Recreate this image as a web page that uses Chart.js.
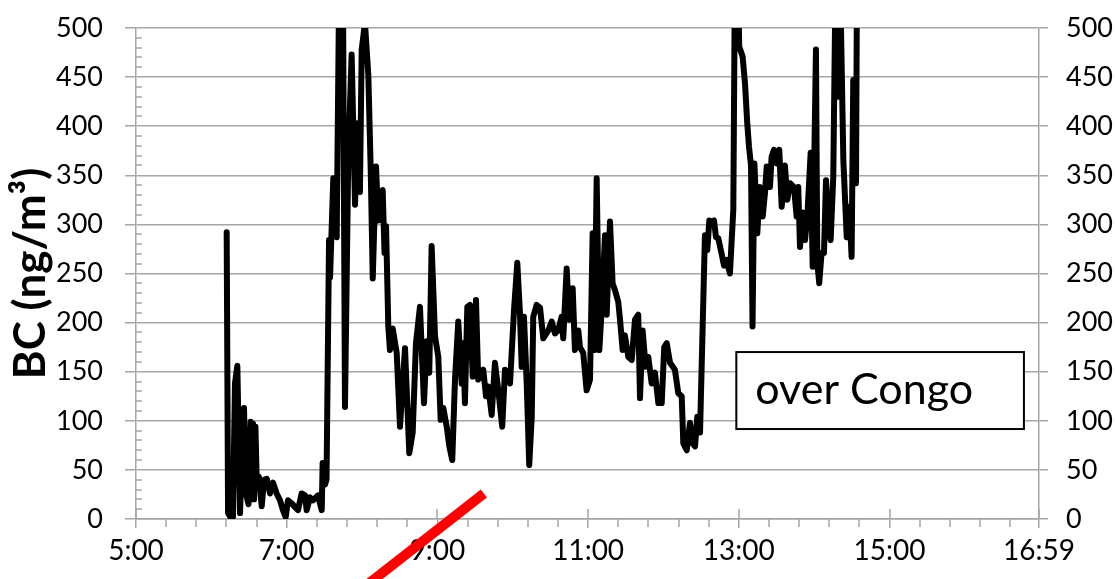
<!DOCTYPE html>
<html>
<head>
<meta charset="utf-8">
<script src="https://cdn.jsdelivr.net/npm/chart.js@4.4.1/dist/chart.umd.min.js"></script>
<style>
  html, body { margin: 0; padding: 0; background: #fff; }
  #wrap { width: 1115px; height: 579px; }
</style>
</head>
<body>
<div id="wrap"><canvas id="bcChart" width="1115" height="579"></canvas></div>
<script>
// ── BC time series, minutes after midnight / ng per m3 ──
const minutes = [
  372.2, 373.3, 376.2, 377.2, 378.8, 380.7, 382.8, 386.0, 387.6, 389.6, 391.3, 392.1, 393.2, 394.0, 395.1, 396.1,
  397.9, 400.1, 401.9, 404.1, 406.7, 409.1, 412.0, 414.7, 417.0, 419.2, 421.0, 424.0, 426.6, 429.0, 431.9, 434.6,
  435.9, 438.5, 440.9, 444.9, 447.9, 448.6, 450.5, 451.7, 453.7, 454.5, 457.1, 459.8, 461.9, 464.8, 466.4, 469.0,
  471.7, 474.4, 476.2, 478.3, 479.7, 482.3, 485.0, 486.9, 488.5, 491.1, 492.9, 496.4, 497.9, 499.1, 500.9, 502.2,
  504.4, 507.6, 510.2, 514.2, 517.6, 520.3, 522.9, 526.1, 529.3, 531.5, 533.5, 535.4, 538.1, 540.7, 542.6, 544.7,
  547.4, 549.5, 551.8, 554.0, 556.6, 559.3, 560.6, 561.9, 563.8, 565.9, 568.1, 570.7, 572.5, 576.5, 578.7, 580.5,
  583.2, 585.8, 588.5, 591.6, 593.8, 595.6, 597.8, 601.0, 603.6, 605.7, 607.1, 608.9, 611.1, 613.1, 615.1, 616.3,
  619.0, 621.7, 624.3, 628.3, 631.0, 633.6, 636.2, 638.9, 640.2, 642.9, 645.0, 647.7, 649.5, 652.2, 653.5, 656.1,
  658.8, 661.5, 663.6, 664.9, 666.8, 668.9, 670.8, 673.4, 674.8, 677.4, 679.5, 681.4, 684.0, 685.4, 687.5, 689.3,
  692.0, 694.7, 697.3, 699.9, 701.3, 703.4, 705.8, 707.9, 710.6, 713.2, 715.9, 718.6, 720.6, 722.6, 725.2, 729.1,
  731.8, 734.5, 735.8, 738.5, 741.1, 743.2, 745.1, 746.9, 749.1, 753.0, 754.9, 756.5, 758.4, 760.2, 761.8, 763.6,
  766.3, 768.2, 770.3, 772.9, 775.6, 776.9, 779.5, 780.3, 783.0, 784.9, 786.7, 788.1, 789.7, 790.9, 792.4, 794.7,
  796.8, 799.0, 800.8, 802.2, 804.8, 806.1, 808.0, 810.1, 812.2, 814.1, 816.7, 818.6, 820.7, 823.9, 826.0, 827.3,
  828.7, 830.8, 832.7, 834.5, 837.2, 838.8, 841.4, 842.5, 844.0, 845.9, 847.8, 849.4, 851.2, 853.1, 855.2, 857.1,
  858.9, 860.5, 863.2, 865.9, 867.9, 869.8, 871.1, 873.3, 874.1
];
const bc = [
  292, 6, 0, 2, 138, 156, 6, 113, 26, 15, 99, 20, 97, 20, 94, 40,
  43, 13, 40, 41, 26, 37, 26, 19, 9, 2, 19, 16, 12, 9, 26, 24,
  9, 22, 19, 24, 9, 57, 35, 40, 284, 246, 347, 287, 560, 540, 114, 366,
  473, 320, 403, 333, 478, 505, 452, 355, 245, 359, 304, 335, 271, 298, 196, 172,
  194, 169, 94, 174, 67, 88, 179, 216, 118, 181, 149, 278, 186, 165, 101, 113,
  94, 74, 60, 142, 201, 138, 179, 118, 216, 218, 145, 223, 142, 152, 125, 135,
  106, 159, 131, 94, 152, 149, 138, 213, 261, 210, 155, 206, 138, 55, 104, 206,
  218, 215, 184, 192, 201, 189, 192, 206, 184, 255, 203, 235, 172, 192, 175, 169,
  131, 142, 291, 172, 347, 172, 213, 289, 208, 303, 240, 233, 221, 203, 172, 187,
  165, 162, 203, 208, 123, 192, 155, 165, 138, 149, 118, 118, 175, 179, 159, 152,
  128, 125, 77, 70, 98, 77, 74, 104, 88, 289, 274, 304, 303, 304, 287, 286,
  270, 258, 264, 250, 315, 560, 540, 481, 471, 444, 403, 379, 360, 196, 362, 291,
  338, 308, 332, 359, 338, 369, 376, 362, 376, 318, 360, 325, 342, 338, 308, 338,
  277, 312, 284, 308, 373, 257, 478, 261, 240, 271, 271, 345, 304, 284, 349, 560,
  430, 560, 366, 287, 318, 267, 447, 342, 560
];

// axis ticks (minutes after midnight; 16:59 is the axis end)
const xTickMinutes = [300, 420, 540, 660, 780, 900, 1019];
const yMin = 0;
const yMax = 500;
const yStep = 50;

// red marker stroke, in data units
const redMinutes = [481, 577];
const redValues = [-70, 26];

const boxLabel = 'over Congo';

const FONT = "Lato, 'Open Sans', sans-serif";
const GRID = '#a6a6a6';

Chart.defaults.font.family = FONT;
Chart.defaults.color = '#000';

const fmtTime = m => {
  const mm = Math.round(m);
  return `${Math.floor(mm / 60)}:${String(mm % 60).padStart(2, '0')}`;
};

const axisExtras = {
  id: 'axisExtras',
  beforeDatasetsDraw(chart) {
    const { ctx, chartArea: a, scales: { x, y } } = chart;
    ctx.save();
    ctx.strokeStyle = GRID;
    ctx.lineWidth = 1.5;
    ctx.beginPath();
    // minor ticks, left axis (inside)
    for (let v = yMin + 10; v < yMax; v += 10) {
      if (v % yStep === 0) continue;
      const py = Math.round(y.getPixelForValue(v));
      ctx.moveTo(a.left, py);
      ctx.lineTo(a.left + 6, py);
    }
    // minor ticks, bottom axis (outside)
    for (let m = xTickMinutes[0] + 24; m < xTickMinutes[xTickMinutes.length - 1] - 5; m += 24) {
      if ((m - xTickMinutes[0]) % 120 === 0) continue;
      const px = Math.round(x.getPixelForValue(m));
      ctx.moveTo(px, a.bottom);
      ctx.lineTo(px, a.bottom + 8);
    }
    // major ticks cross the axis
    xTickMinutes.forEach(m => {
      const px = Math.round(x.getPixelForValue(m));
      ctx.moveTo(px, a.bottom - 10);
      ctx.lineTo(px, a.bottom);
    });
    ctx.stroke();
    ctx.restore();
  },
  afterDraw(chart) {
    const { ctx, scales: { x, y } } = chart;
    const left = x.getPixelForValue(778), right = x.getPixelForValue(1007);
    const top = y.getPixelForValue(170), bottom = y.getPixelForValue(91.6);
    ctx.save();
    ctx.fillStyle = '#fff';
    ctx.fillRect(left, top, right - left, bottom - top);
    ctx.strokeStyle = '#000';
    ctx.lineWidth = 2;
    ctx.strokeRect(left, top, right - left, bottom - top);
    ctx.fillStyle = '#000';
    ctx.font = `43px ${FONT}`;
    ctx.textBaseline = 'alphabetic';
    ctx.fillText(boxLabel, left + 19, top + 52);
    ctx.restore();
  }
};

// vertical axes: fixed width, no extra top/bottom padding for labels
const fixWidth = w => s => { s.width = w; s.paddingTop = 0; s.paddingBottom = 0; };

const seriesPoints = minutes.map((m, i) => ({ x: m, y: bc[i] }));
const redPoints = redMinutes.map((m, i) => ({ x: m, y: redValues[i] }));

new Chart(document.getElementById('bcChart'), {
  type: 'line',
  data: {
    datasets: [
      {
        label: 'BC',
        data: seriesPoints,
        borderColor: '#000',
        borderWidth: 6,
        borderJoinStyle: 'round',
        borderCapStyle: 'round',
        pointRadius: 0,
        tension: 0,
        clip: 0,
      },
      {
        label: 'marker',
        data: redPoints,
        borderColor: '#ff0000',
        borderWidth: 10,
        borderCapStyle: 'butt',
        pointRadius: 0,
        clip: false,
      }
    ]
  },
  options: {
    responsive: false,
    animation: false,
    devicePixelRatio: 1,
    layout: { padding: { top: 28, left: 0, right: 0, bottom: 0 } },
    plugins: { legend: { display: false }, tooltip: { enabled: false } },
    scales: {
      x: {
        type: 'linear',
        min: xTickMinutes[0],
        max: xTickMinutes[xTickMinutes.length - 1],
        afterBuildTicks: s => { s.ticks = xTickMinutes.map(v => ({ value: v })); },
        afterFit: s => { s.height = 60; },
        grid: { drawOnChartArea: false, color: GRID, lineWidth: 1.5, tickLength: 9 },
        border: { color: GRID, width: 1.5 },
        ticks: { font: { size: 28 }, padding: 6, maxRotation: 0, autoSkip: false, callback: v => fmtTime(v) }
      },
      y: {
        position: 'left',
        min: yMin,
        max: yMax,
        afterFit: fixWidth(136),
        grid: { color: GRID, lineWidth: 1.5, tickLength: 11 },
        border: { color: GRID, width: 1.5 },
        ticks: { stepSize: yStep, font: { size: 27 }, padding: 22 },
        title: { display: true, text: 'BC (ng/m³)', font: { size: 44, weight: 'bold' }, padding: { top: 4, bottom: 0 } }
      },
      y2: {
        position: 'right',
        min: yMin,
        max: yMax,
        afterFit: fixWidth(76),
        grid: { drawOnChartArea: false, color: GRID, lineWidth: 1.5, tickLength: 9 },
        border: { color: GRID, width: 1.5 },
        ticks: { stepSize: yStep, font: { size: 27 }, padding: 18 }
      }
    }
  },
  plugins: [axisExtras]
});
</script>
</body>
</html>
